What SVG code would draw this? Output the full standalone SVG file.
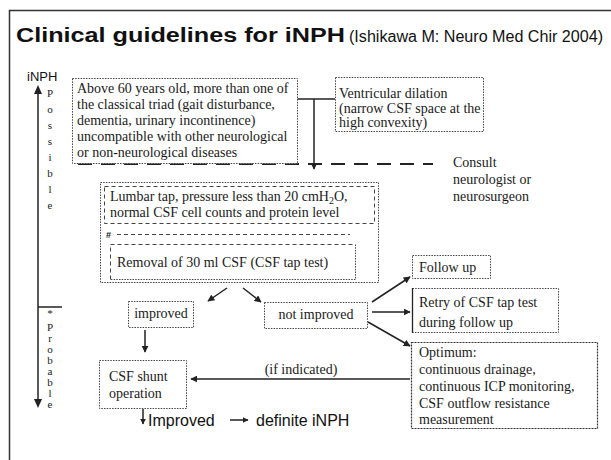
<svg xmlns="http://www.w3.org/2000/svg" width="611" height="460" viewBox="0 0 611 460">
<defs>
<marker id="ah" viewBox="0 0 10 10" refX="9" refY="5" markerWidth="7" markerHeight="7" orient="auto" markerUnits="userSpaceOnUse">
<path d="M0,0 L10,5 L0,10 z" fill="#222"/>
</marker>
<marker id="ahs" viewBox="0 0 10 10" refX="9" refY="5" markerWidth="6" markerHeight="6" orient="auto" markerUnits="userSpaceOnUse">
<path d="M0,0 L10,5 L0,10 z" fill="#222"/>
</marker>
</defs>
<style>
.t{font-family:"Liberation Serif","Times New Roman",serif;font-size:14px;fill:#1a1a1a}
.sm{font-family:"Liberation Serif","Times New Roman",serif;font-size:11px;fill:#1a1a1a;text-anchor:middle}
.s{font-family:"Liberation Sans",Arial,sans-serif;fill:#111}
.box{fill:#fff;stroke:#444;stroke-width:1;stroke-dasharray:1.5 1.2}
.dark{fill:#fff;stroke:#333;stroke-width:1.2;stroke-dasharray:2 1}
.dash{fill:none;stroke:#444;stroke-width:1;stroke-dasharray:4 3}
.ln{fill:none;stroke:#222;stroke-width:1.5}
</style>
<rect width="611" height="460" fill="#fff"/>
<path d="M9.5,460 V10.5 H611" fill="none" stroke="#333" stroke-width="1.5"/>
<g id="title">
<text class="s" x="16" y="42" font-size="20" font-weight="bold" textLength="329" lengthAdjust="spacingAndGlyphs">Clinical guidelines for iNPH</text>
<text class="s" x="349" y="42" font-size="16" textLength="254" lengthAdjust="spacingAndGlyphs">(Ishikawa M: Neuro Med Chir  2004)</text>
</g>
<g id="axis">
<text class="s" x="27" y="81" font-size="13">iNPH</text>
<line class="ln" x1="38" y1="92" x2="38" y2="400"/>
<path d="M38,85 L34,94 L42,94 z" fill="#222"/>
<path d="M38,408 L34,399 L42,399 z" fill="#222"/>
<line class="ln" x1="38" y1="307" x2="62" y2="307"/>
<text class="sm" x="50" y="97">P</text>
<text class="sm" x="50" y="113">o</text>
<text class="sm" x="50" y="129">s</text>
<text class="sm" x="50" y="145">s</text>
<text class="sm" x="50" y="161">i</text>
<text class="sm" x="50" y="177">b</text>
<text class="sm" x="50" y="193">l</text>
<text class="sm" x="50" y="209">e</text>
<text class="sm" x="50" y="317" font-size="8">*</text>
<text class="sm" x="50" y="331" font-size="10">P</text>
<text class="sm" x="50" y="342" font-size="10">r</text>
<text class="sm" x="50" y="353" font-size="10">o</text>
<text class="sm" x="50" y="364" font-size="10">b</text>
<text class="sm" x="50" y="375" font-size="10">a</text>
<text class="sm" x="50" y="386" font-size="10">b</text>
<text class="sm" x="50" y="397" font-size="10">l</text>
<text class="sm" x="50" y="408" font-size="10">e</text>
</g>
<g id="connectors">
<path class="ln" d="M297,99 H335"/>
<path class="ln" d="M314,99 V169" marker-end="url(#ah)"/>
<line x1="78" y1="164" x2="433" y2="164" stroke="#222" stroke-width="2" stroke-dasharray="14 9"/>
<path class="ln" d="M238,225 V243" stroke-width="1" marker-end="url(#ahs)"/>
<path class="ln" d="M227,288 L208,301" marker-end="url(#ah)"/>
<path class="ln" d="M243,288 L261,302" marker-end="url(#ah)"/>
<path class="ln" d="M145,330 V352" marker-end="url(#ah)"/>
<path class="ln" d="M372,302 L410,277" marker-end="url(#ah)"/>
<path class="ln" d="M372,312 L410,312" marker-end="url(#ah)"/>
<path class="ln" d="M368,322 L410,346" marker-end="url(#ah)"/>
<path class="ln" d="M410,379 H191" marker-end="url(#ah)"/>
<text class="t" x="301" y="374" text-anchor="middle">(if indicated)</text>
<path class="ln" d="M143,409 V424" marker-end="url(#ahs)"/>
<path class="ln" d="M230,420 H248" stroke-width="2" marker-end="url(#ahs)"/>
</g>
<g id="above">
<rect class="box" x="72.5" y="78.5" width="225" height="85"/>
<text class="t" x="77" y="93">Above 60 years old, more than one of</text>
<text class="t" x="77" y="109">the classical triad (gait disturbance,</text>
<text class="t" x="77" y="125">dementia, urinary incontinence)</text>
<text class="t" x="77" y="141">uncompatible with other neurological</text>
<text class="t" x="77" y="157">or non-neurological diseases</text>
</g>
<g id="ventricular">
<rect class="box" x="335.5" y="77.5" width="148" height="54"/>
<text class="t" x="339" y="98">Ventricular dilation</text>
<text class="t" x="339" y="113">(narrow CSF space at the</text>
<text class="t" x="339" y="127">high convexity)</text>
</g>
<g id="consult">
<text class="t" x="453" y="167">Consult</text>
<text class="t" x="453" y="184">neurologist or</text>
<text class="t" x="453" y="201">neurosurgeon</text>
</g>
<g id="lumbar">
<rect class="box" x="100.5" y="182.5" width="278" height="100"/>
<rect class="dash" x="104.5" y="186.5" width="270" height="37"/>
<text class="t" x="110" y="201">Lumbar tap, pressure less than 20 cmH<tspan font-size="10" dy="3">2</tspan><tspan dy="-3">O,</tspan></text>
<text class="t" x="110" y="217">normal CSF cell counts and protein level</text>
</g>
<g id="removal">
<text class="s" x="106" y="238" font-size="9" font-weight="bold">#</text>
<line x1="117" y1="234.5" x2="350" y2="234.5" stroke="#444" stroke-dasharray="4 3"/>
<path d="M110.5,279.5 V244.5 H355.5" class="dash"/>
<path d="M355.5,244.5 V279.5 H110.5" class="box" fill="none"/>
<text class="t" x="117" y="267">Removal of 30 ml CSF (CSF tap test)</text>
</g>
<g id="improved">
<rect class="box" x="128.5" y="301.5" width="65" height="26"/>
<text class="t" x="161" y="318" text-anchor="middle">improved</text>
</g>
<g id="notimproved">
<rect class="box" x="264.5" y="302.5" width="103" height="26"/>
<text class="t" x="316" y="319" text-anchor="middle">not improved</text>
</g>
<g id="followup">
<rect class="box" x="412.5" y="255.5" width="78" height="23"/>
<text class="t" x="419" y="272">Follow up</text>
</g>
<g id="retry">
<rect class="box" x="412.5" y="288.5" width="146" height="44"/>
<line x1="412.5" y1="288" x2="412.5" y2="333" stroke="#222" stroke-width="1.3"/>
<text class="t" x="419" y="307">Retry of CSF tap test</text>
<text class="t" x="419" y="327">during follow up</text>
</g>
<g id="optimum">
<rect class="dark" x="411.5" y="342.5" width="186" height="86"/>
<text class="t" x="419" y="357">Optimum:</text>
<text class="t" x="419" y="374">continuous drainage,</text>
<text class="t" x="419" y="391">continuous ICP monitoring,</text>
<text class="t" x="419" y="408">CSF outflow resistance</text>
<text class="t" x="419" y="424">measurement</text>
</g>
<g id="shunt">
<rect class="box" x="99.5" y="360.5" width="87" height="48"/>
<text class="t" x="109" y="381">CSF shunt</text>
<text class="t" x="109" y="398">operation</text>
</g>
<g id="result">
<text class="s" x="148" y="426" font-size="16">Improved</text>
<text class="s" x="256" y="426" font-size="16">definite iNPH</text>
</g>
</svg>
